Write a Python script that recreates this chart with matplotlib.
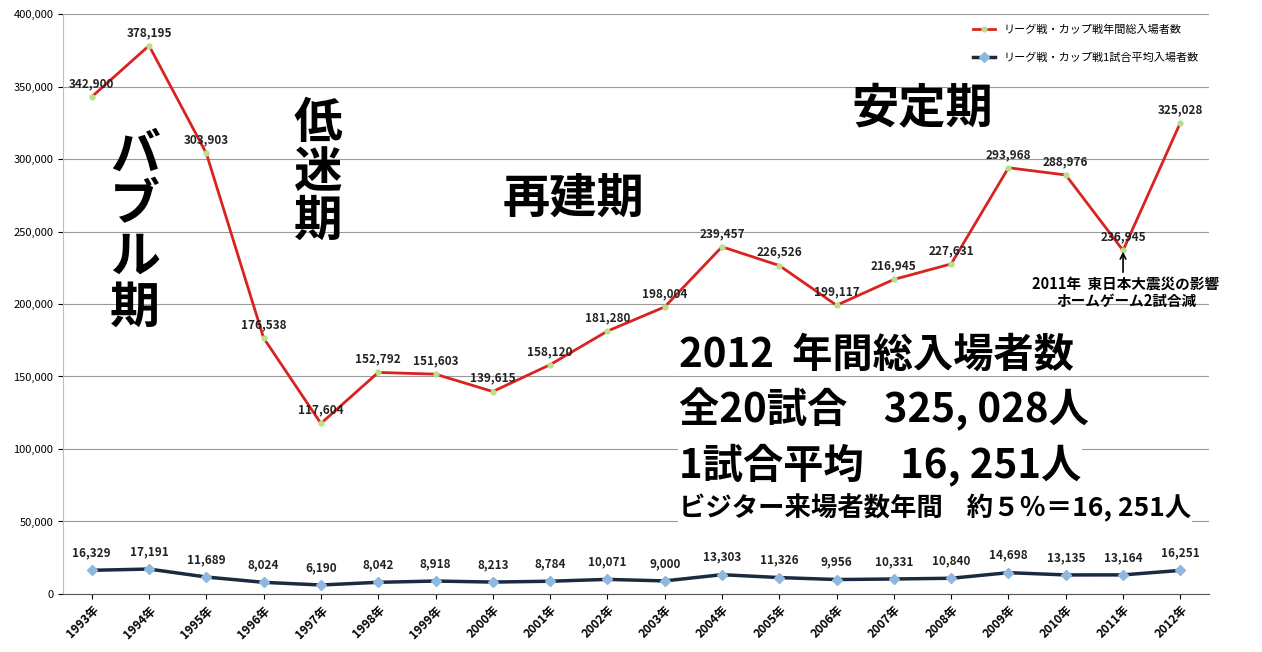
import matplotlib.pyplot as plt
import numpy as np

plt.rcParams['font.family'] = ['Noto Sans CJK JP', 'DejaVu Sans']

years = [f"{y}年" for y in range(1993, 2013)]
total = [342900, 378195, 303903, 176538, 117604, 152792, 151603, 139615, 158120, 181280,
         198004, 239457, 226526, 199117, 216945, 227631, 293968, 288976, 236945, 325028]
avg = [16329, 17191, 11689, 8024, 6190, 8042, 8918, 8213, 8784, 10071,
       9000, 13303, 11326, 9956, 10331, 10840, 14698, 13135, 13164, 16251]

label_total = "リーグ戦・カップ戦年間総入場者数"
label_avg = "リーグ戦・カップ戦1試合平均入場者数"

fig = plt.figure(figsize=(12.62, 6.52), dpi=100)
ax = fig.add_axes([0.05, 0.089, 0.908, 0.8895])

x = np.arange(len(years))
ax.plot(x, total, color="#d8231f", lw=2, marker="o", ms=3.5,
        mfc="#b8e08a", mec="#b8e08a", label=label_total)
ax.plot(x, avg, color="#1c2a40", lw=2.5, marker="D", ms=5,
        mfc="#8fb8e0", mec="#8fb8e0", label=label_avg)

for i, v in enumerate(total):
    ax.annotate(f"{v:,}", (x[i], v), xytext=(0, 7), textcoords="offset points",
                ha="center", fontsize=8.5, fontweight="bold", color="#222222")
for i, v in enumerate(avg):
    ax.annotate(f"{v:,}", (x[i], v), xytext=(0, 10), textcoords="offset points",
                ha="center", fontsize=8.5, fontweight="bold", color="#222222")

ax.set_xlim(-0.5, len(years) - 0.5)
ax.set_ylim(0, 400000)
ax.set_yticks(np.arange(0, 400001, 50000))
ax.set_yticklabels([f"{v:,}" for v in range(0, 400001, 50000)], fontsize=8)
ax.set_xticks(x)
ax.set_xticklabels(years, rotation=45, ha="right", rotation_mode="anchor",
                   fontsize=8.5, fontweight="bold")
ax.grid(axis="y", color="#9a9a9a", lw=0.8)
ax.set_axisbelow(True)
for s in ["top", "right"]:
    ax.spines[s].set_visible(False)
ax.spines["left"].set_color("#a8c4e0")
ax.spines["bottom"].set_color("#555555")

# period labels
ax.text(0.75, 250000, "バ\nブ\nル\n期", fontsize=36, fontweight="bold",
        ha="center", va="center", linespacing=1.0)
ax.text(3.95, 291000, "低\n迷\n期", fontsize=35, fontweight="bold",
        ha="center", va="center", linespacing=1.0)
ax.text(8.4, 273000, "再建期", fontsize=34, fontweight="bold", ha="center", va="center")
ax.text(14.5, 334000, "安定期", fontsize=34, fontweight="bold", ha="center", va="center")

# 2011 note
ax.annotate("", xy=(18, 238000), xytext=(18, 220000),
            arrowprops=dict(arrowstyle="->", color="black", lw=1.2))
ax.text(18.05, 214000, "2011年  東日本大震災の影響", fontsize=10.5, fontweight="bold",
        ha="center", va="center")
ax.text(18.05, 202000, "ホームゲーム2試合減", fontsize=10.5, fontweight="bold",
        ha="center", va="center")

# summary block
bb = dict(fc="white", ec="none", pad=1)
ax.text(10.25, 165000, "2012  年間総入場者数", fontsize=29, fontweight="bold",
        ha="left", va="center", bbox=bb)
ax.text(10.25, 127000, "全20試合    325, 028人", fontsize=29, fontweight="bold",
        ha="left", va="center", bbox=bb)
ax.text(10.25, 89000, "1試合平均    16, 251人", fontsize=29, fontweight="bold",
        ha="left", va="center", bbox=bb)
ax.text(10.25, 59000, "ビジター来場者数年間    約５％＝16, 251人", fontsize=19,
        fontweight="bold", ha="left", va="center", bbox=bb)

ax.legend(loc="upper right", bbox_to_anchor=(1.0, 1.0), frameon=False, fontsize=8,
          labelspacing=1.6, handlelength=2)

fig.savefig("out.png", dpi=100)
